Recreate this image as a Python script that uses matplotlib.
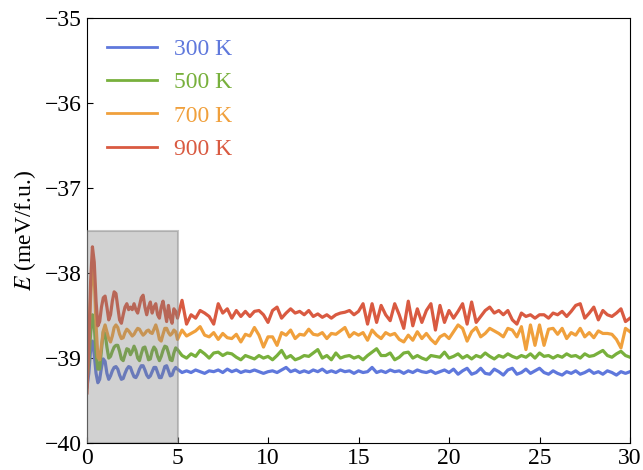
import numpy as np
from matplotlib import pyplot as plt
from matplotlib.patches import Rectangle

# time grid (ps): fine sampling over the first 5 ps, coarser afterwards
time = np.concatenate([np.arange(50) * 0.1, 5 + np.arange(101) * 0.25])

temps = ["300 K", "500 K", "700 K", "900 K"]
colors = ["#5f78dc", "#78b03c", "#f0a03c", "#d95a41"]

e_300 = [
    -39.34, -39.18, -38.90, -38.80, -38.96, -39.18, -39.29, -39.25, -39.11, -39.01,
    -39.04, -39.18, -39.25, -39.21, -39.15, -39.11, -39.10, -39.13, -39.20, -39.25,
    -39.24, -39.18, -39.13, -39.10, -39.11, -39.17, -39.22, -39.23, -39.19, -39.13,
    -39.09, -39.09, -39.14, -39.20, -39.23, -39.21, -39.16, -39.11, -39.11, -39.17,
    -39.23, -39.23, -39.17, -39.10, -39.09, -39.15, -39.21, -39.20, -39.14, -39.11,
    -39.13, -39.17, -39.15, -39.17, -39.14, -39.16, -39.18, -39.15, -39.16, -39.14,
    -39.17, -39.13, -39.16, -39.14, -39.17, -39.15, -39.16, -39.14, -39.16, -39.18,
    -39.16, -39.15, -39.17, -39.14, -39.11, -39.16, -39.14, -39.17, -39.15, -39.17,
    -39.14, -39.16, -39.13, -39.17, -39.15, -39.17, -39.14, -39.16, -39.15, -39.18,
    -39.15, -39.17, -39.16, -39.11, -39.17, -39.15, -39.17, -39.14, -39.16, -39.15,
    -39.18, -39.15, -39.17, -39.14, -39.16, -39.17, -39.15, -39.18, -39.16, -39.14,
    -39.17, -39.13, -39.19, -39.15, -39.12, -39.19, -39.17, -39.12, -39.18, -39.19,
    -39.13, -39.16, -39.20, -39.14, -39.12, -39.19, -39.17, -39.13, -39.18, -39.15,
    -39.12, -39.17, -39.19, -39.15, -39.18, -39.20, -39.16, -39.18, -39.15, -39.19,
    -39.17, -39.14, -39.18, -39.16, -39.19, -39.15, -39.17, -39.20, -39.16, -39.18,
    -39.16,
]

e_500 = [
    -39.27, -39.04, -38.71, -38.49, -38.62, -38.94, -39.13, -39.13, -38.90, -38.69,
    -38.71, -38.87, -39.00, -38.98, -38.92, -38.87, -38.85, -38.85, -38.92, -39.01,
    -39.03, -38.96, -38.89, -38.90, -38.96, -38.92, -38.86, -38.91, -39.00, -39.03,
    -38.95, -38.88, -38.87, -38.94, -39.02, -39.01, -38.92, -38.87, -38.90, -38.98,
    -39.03, -38.98, -38.91, -38.86, -38.87, -38.94, -39.02, -39.03, -38.94, -38.88,
    -38.90, -38.97, -39.00, -38.95, -38.98, -38.91, -38.95, -39.00, -38.94, -38.93,
    -38.97, -38.94, -38.95, -38.99, -39.02, -38.97, -38.99, -39.01, -38.97, -39.00,
    -38.98, -39.02, -38.97, -38.91, -39.00, -38.97, -39.02, -39.00, -38.97, -38.98,
    -38.94, -38.90, -39.00, -38.97, -39.02, -38.94, -39.00, -38.98, -38.97, -39.00,
    -38.98, -39.02, -38.97, -38.93, -38.89, -38.97, -38.97, -38.94, -39.02, -38.99,
    -38.94, -38.93, -39.00, -38.97, -39.00, -39.02, -38.97, -38.98, -38.99, -38.93,
    -39.00, -38.98, -38.95, -39.00, -38.97, -39.01, -38.97, -38.99, -38.94, -38.98,
    -39.01, -38.97, -38.99, -38.95, -38.98, -39.00, -38.97, -38.99, -38.95, -39.00,
    -38.94, -38.98, -38.97, -39.00, -38.97, -38.99, -38.95, -38.98, -38.97, -39.00,
    -38.95, -38.98, -38.97, -38.94, -38.91, -38.97, -38.99, -38.95, -38.92, -38.97,
    -38.99,
]

e_700 = [
    -39.04, -38.76, -38.29, -37.90, -38.05, -38.61, -38.99, -39.02, -38.85, -38.68,
    -38.61, -38.69, -38.77, -38.81, -38.74, -38.64, -38.61, -38.64, -38.72, -38.77,
    -38.76, -38.70, -38.66, -38.68, -38.71, -38.74, -38.72, -38.68, -38.65, -38.66,
    -38.70, -38.73, -38.71, -38.68, -38.67, -38.70, -38.71, -38.66, -38.61, -38.68,
    -38.78, -38.80, -38.72, -38.65, -38.65, -38.70, -38.73, -38.71, -38.67, -38.69,
    -38.78, -38.67, -38.74, -38.71, -38.68, -38.63, -38.73, -38.75, -38.70, -38.78,
    -38.71, -38.76, -38.77, -38.72, -38.81, -38.72, -38.74, -38.64, -38.73, -38.87,
    -38.75, -38.75, -38.85, -38.70, -38.73, -38.67, -38.77, -38.72, -38.73, -38.66,
    -38.72, -38.73, -38.70, -38.77, -38.71, -38.72, -38.68, -38.64, -38.75, -38.70,
    -38.73, -38.70, -38.79, -38.67, -38.73, -38.77, -38.70, -38.73, -38.71, -38.78,
    -38.81, -38.73, -38.79, -38.69, -38.77, -38.71, -38.78, -38.83, -38.75, -38.72,
    -38.77, -38.69, -38.61, -38.65, -38.80, -38.69, -38.64, -38.75, -38.71, -38.65,
    -38.68, -38.71, -38.75, -38.65, -38.67, -38.75, -38.63, -38.90, -38.61, -38.85,
    -38.61, -38.85, -38.66, -38.65, -38.72, -38.65, -38.77, -38.70, -38.73, -38.65,
    -38.75, -38.70, -38.76, -38.68, -38.71, -38.71, -38.72, -38.78, -38.88, -38.65,
    -38.69,
]

e_900 = [
    -39.41, -38.85, -38.10, -37.69, -37.87, -38.33, -38.62, -38.57, -38.40, -38.29,
    -38.27, -38.40, -38.55, -38.49, -38.33, -38.22, -38.24, -38.40, -38.55, -38.59,
    -38.49, -38.40, -38.36, -38.43, -38.40, -38.43, -38.36, -38.43, -38.47, -38.38,
    -38.29, -38.26, -38.40, -38.49, -38.40, -38.34, -38.47, -38.40, -38.36, -38.49,
    -38.53, -38.40, -38.33, -38.45, -38.57, -38.38, -38.52, -38.59, -38.42, -38.45,
    -38.53, -38.32, -38.60, -38.49, -38.53, -38.44, -38.47, -38.51, -38.60, -38.36,
    -38.47, -38.42, -38.53, -38.44, -38.51, -38.45, -38.51, -38.45, -38.44, -38.49,
    -38.58, -38.44, -38.40, -38.53, -38.47, -38.42, -38.47, -38.45, -38.49, -38.44,
    -38.51, -38.48, -38.52, -38.49, -38.53, -38.49, -38.47, -38.46, -38.44, -38.49,
    -38.45, -38.36, -38.60, -38.36, -38.58, -38.38, -38.49, -38.56, -38.36, -38.49,
    -38.65, -38.33, -38.62, -38.42, -38.58, -38.44, -38.36, -38.67, -38.38, -38.58,
    -38.44, -38.53, -38.45, -38.36, -38.60, -38.34, -38.58, -38.51, -38.44, -38.40,
    -38.47, -38.44, -38.49, -38.44, -38.55, -38.60, -38.47, -38.51, -38.49, -38.53,
    -38.49, -38.49, -38.53, -38.47, -38.49, -38.45, -38.51, -38.45, -38.38, -38.36,
    -38.53, -38.47, -38.40, -38.55, -38.44, -38.49, -38.51, -38.47, -38.42, -38.57,
    -38.53,
]

plt.rcParams["font.family"] = ["Liberation Serif", "DejaVu Serif"]
plt.rcParams["mathtext.fontset"] = "stix"
plt.rcParams["font.size"] = 17

fig = plt.figure(figsize=(6.43, 4.70), dpi=100)
ax = fig.add_axes([0.1353, 0.0574, 0.8445, 0.9036])

for label, color, energy in zip(temps, colors, [e_300, e_500, e_700, e_900]):
    ax.plot(time, energy, color=color, lw=2.3, label=label, zorder=2)

# equilibration window
ax.add_patch(Rectangle((0, -40), 5, 2.5, facecolor=(0.5, 0.5, 0.5, 0.36),
                       edgecolor=(0.55, 0.55, 0.55, 0.5), lw=1.5, zorder=3))

ax.set_xlim(0, 30)
ax.set_ylim(-40, -35)
ax.set_xticks([0, 5, 10, 15, 20, 25, 30])
ax.set_yticks([-40, -39, -38, -37, -36, -35])
ax.tick_params(direction="in", length=4, width=0.8, labelsize=17)
ax.set_ylabel("$E$ (meV/f.u.)", fontsize=17, labelpad=5)

leg = ax.legend(loc="upper left", frameon=False, fontsize=17, handlelength=2.1,
                handletextpad=0.75, labelspacing=0.5, borderaxespad=0.45)
for line, text in zip(leg.get_lines(), leg.get_texts()):
    line.set_linewidth(2)
    text.set_color(line.get_color())

fig.savefig("out.png", dpi=100)
